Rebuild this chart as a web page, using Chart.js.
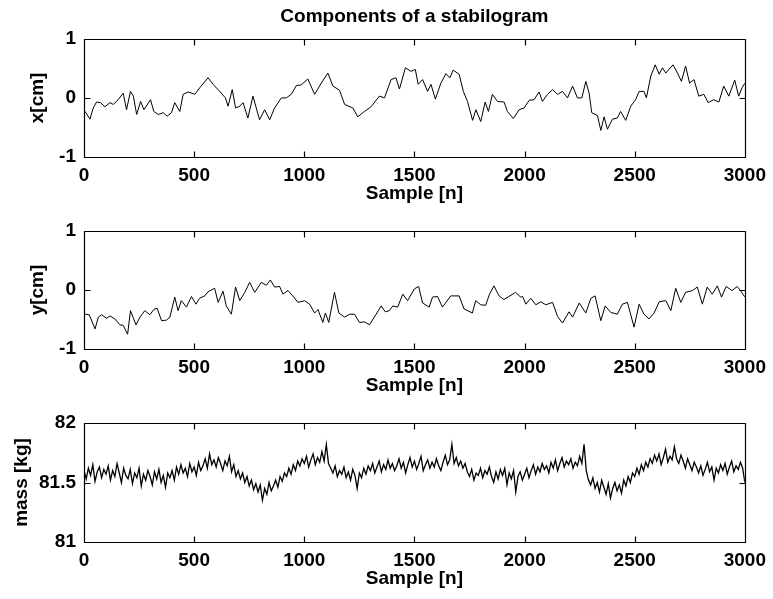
<!DOCTYPE html>
<html>
<head>
<meta charset="utf-8">
<script src="https://cdn.jsdelivr.net/npm/chart.js@4.4.1/dist/chart.umd.min.js"></script>
<style>
  body { margin: 0; background: #fff; }
  .page { position: relative; width: 773px; height: 599px; }
  canvas { position: absolute; left: 0; }
</style>
</head>
<body>
<div class="page">
  <canvas id="xChart" width="773" height="205" style="top:0px"></canvas>
  <canvas id="yChart" width="773" height="186" style="top:211px"></canvas>
  <canvas id="massChart" width="773" height="187" style="top:403px"></canvas>
</div>
<script>
const xTicksSample = [0, 500, 1000, 1500, 2000, 2500, 3000];

const xSamples = [0, 5, 27, 42, 57, 75, 95, 118, 133, 155, 178, 193, 211, 224, 239, 257, 272, 302, 317, 337, 360, 377, 397, 412, 435, 450, 473, 503, 525, 563, 586, 616, 642, 654, 673, 688, 707, 722, 744, 767, 797, 820, 843, 865, 896, 918, 941, 964, 986,
  1016, 1047, 1077, 1107, 1130, 1160, 1183, 1220, 1243, 1273, 1303, 1341, 1364, 1394, 1416, 1432, 1459, 1484, 1504, 1517, 1537, 1560, 1575, 1595, 1620, 1643, 1661, 1676, 1703, 1722, 1741, 1764, 1779, 1801, 1821, 1836, 1854, 1877, 1907, 1922, 1949, 1975, 1998, 2021,
  2043, 2066, 2081, 2104, 2127, 2150, 2172, 2195, 2218, 2240, 2260, 2278, 2293, 2305, 2331, 2346, 2361, 2376, 2399, 2421, 2436, 2459, 2482, 2504, 2520, 2542, 2553, 2573, 2593, 2611, 2626, 2641, 2674, 2694, 2712, 2731, 2749, 2769, 2791, 2814, 2833, 2859, 2882, 2904, 2927, 2954, 2972, 2987, 3000];
const xValues = [-0.2, -0.23, -0.36, -0.17, -0.07, -0.08, -0.15, -0.08, -0.11, -0.03, 0.08, -0.2, 0.11, 0.03, -0.28, -0.06, -0.2, -0.03, -0.23, -0.28, -0.25, -0.31, -0.25, -0.08, -0.23, 0.06, 0.1, 0.06, 0.17, 0.34, 0.23, 0.11, 0.0, -0.14, 0.14, -0.17, -0.14, -0.08, -0.34, 0.03, -0.37, -0.2, -0.37, -0.17, 0.0, 0.0, 0.06, 0.21, 0.22,
  0.32, 0.06, 0.25, 0.42, 0.2, 0.13, -0.11, -0.17, -0.32, -0.23, -0.15, 0.03, 0.0, 0.31, 0.34, 0.15, 0.51, 0.45, 0.48, 0.23, 0.31, 0.11, 0.23, -0.02, 0.25, 0.41, 0.34, 0.47, 0.4, 0.11, -0.06, -0.38, -0.2, -0.4, -0.07, -0.23, 0.06, -0.06, -0.07, -0.23, -0.35, -0.2, -0.17, -0.04,
  -0.03, 0.1, -0.06, 0.06, 0.14, 0.06, 0.11, 0.0, 0.2, 0.0, 0.0, 0.28, 0.08, -0.25, -0.3, -0.55, -0.32, -0.53, -0.36, -0.34, -0.23, -0.38, -0.14, -0.03, 0.11, 0.11, 0.0, 0.37, 0.56, 0.4, 0.51, 0.42, 0.56, 0.42, 0.28, 0.54, 0.25, 0.31, 0.03, 0.06, -0.08, -0.03, -0.07, 0.2, 0.03, 0.3, 0.03, 0.17, 0.25];

const ySamples = [0, 5, 24, 50, 65, 80, 103, 118, 140, 163, 178, 198, 211, 236, 254, 276, 299, 317, 332, 352, 375, 390, 412, 427, 442, 465, 488, 508, 525, 548, 563, 593, 609, 631, 646, 669, 688, 707, 730, 752, 775, 805, 828, 846, 865, 888, 903, 926, 948, 971, 994,
  1001, 1024, 1047, 1062, 1084, 1096, 1111, 1137, 1157, 1183, 1205, 1228, 1250, 1273, 1296, 1318, 1349, 1368, 1386, 1402, 1424, 1447, 1469, 1500, 1519, 1537, 1567, 1582, 1605, 1627, 1665, 1703, 1725, 1763, 1778, 1801, 1823, 1841, 1861, 1884, 1906, 1929, 1959, 1982,
  1991, 2006, 2028, 2051, 2074, 2096, 2127, 2150, 2172, 2202, 2218, 2248, 2278, 2301, 2320, 2346, 2366, 2391, 2421, 2444, 2467, 2497, 2520, 2542, 2565, 2588, 2611, 2641, 2664, 2686, 2709, 2731, 2762, 2784, 2807, 2829, 2852, 2875, 2894, 2915, 2942, 2965, 2980, 3000];
const yValues = [-0.4, -0.41, -0.42, -0.66, -0.46, -0.42, -0.48, -0.44, -0.49, -0.59, -0.6, -0.75, -0.35, -0.59, -0.46, -0.35, -0.42, -0.33, -0.31, -0.52, -0.51, -0.46, -0.12, -0.35, -0.18, -0.29, -0.11, -0.24, -0.14, -0.1, -0.03, 0.03, -0.21, -0.02, -0.27, -0.41, 0.05, -0.18, -0.04, 0.13, -0.04, 0.13, 0.08, 0.17, 0.05, 0.06, -0.07, -0.01, -0.1, -0.21, -0.19,
  -0.18, -0.24, -0.39, -0.33, -0.55, -0.39, -0.55, -0.04, -0.39, -0.46, -0.41, -0.41, -0.55, -0.54, -0.59, -0.46, -0.27, -0.37, -0.35, -0.27, -0.29, -0.07, -0.18, 0.02, 0.06, -0.22, -0.29, -0.12, -0.11, -0.29, -0.1, -0.1, -0.32, -0.39, -0.18, -0.25, -0.26, -0.07, 0.07, -0.1, -0.16, -0.11, -0.04, -0.12,
  -0.11, -0.24, -0.14, -0.25, -0.2, -0.25, -0.21, -0.45, -0.56, -0.37, -0.46, -0.22, -0.39, -0.14, -0.1, -0.52, -0.27, -0.38, -0.41, -0.24, -0.21, -0.63, -0.24, -0.41, -0.49, -0.39, -0.2, -0.18, -0.35, 0.03, -0.21, -0.04, -0.01, 0.05, -0.24, 0.05, -0.07, 0.07, -0.12, 0.06, -0.01, 0.06, -0.01, -0.12];

// mass read every 10 samples, n = 0 .. 3000
const massValues = [
  81.60, 81.53, 81.62, 81.56, 81.65, 81.51, 81.59, 81.63, 81.54, 81.61,
  81.57, 81.64, 81.52, 81.60, 81.55, 81.66, 81.58, 81.50, 81.62, 81.56,
  81.53, 81.61, 81.49, 81.58, 81.54, 81.62, 81.47, 81.57, 81.52, 81.60,
  81.55, 81.48, 81.59, 81.53, 81.61, 81.50, 81.56, 81.46, 81.58, 81.54,
  81.60, 81.52, 81.63, 81.57, 81.65, 81.58, 81.62, 81.55, 81.66, 81.59,
  81.63, 81.56, 81.67, 81.60, 81.64, 81.70, 81.62, 81.74, 81.65, 81.69,
  81.63, 81.71, 81.66, 81.60, 81.68, 81.64, 81.72, 81.59, 81.65, 81.55,
  81.60, 81.53, 81.58, 81.50, 81.55, 81.47, 81.52, 81.44, 81.49, 81.42,
  81.48, 81.35, 81.45, 81.40, 81.50, 81.43, 81.47, 81.52, 81.46, 81.55,
  81.51, 81.58, 81.55, 81.62, 81.57, 81.65, 81.60, 81.68, 81.64, 81.70,
  81.66, 81.72, 81.63, 81.69, 81.74, 81.65, 81.71, 81.67, 81.76, 81.68,
  81.82, 81.66, 81.62, 81.58, 81.64, 81.55, 81.60, 81.57, 81.63, 81.54,
  81.59, 81.52, 81.61, 81.56, 81.45, 81.58, 81.54, 81.62, 81.57, 81.64,
  81.60, 81.66, 81.58, 81.63, 81.68, 81.59, 81.65, 81.61, 81.69, 81.62,
  81.66, 81.60, 81.64, 81.70, 81.62, 81.67, 81.58, 81.65, 81.71, 81.63,
  81.68, 81.61, 81.66, 81.72, 81.60, 81.65, 81.69, 81.62, 81.67, 81.63,
  81.70, 81.64, 81.60, 81.67, 81.73, 81.65, 81.69, 81.82, 81.66, 81.71,
  81.64, 81.68, 81.62, 81.66, 81.59, 81.55, 81.61, 81.52, 81.58, 81.56,
  81.62, 81.54, 81.60, 81.57, 81.63, 81.55, 81.50, 81.59, 81.53, 81.61,
  81.56, 81.62, 81.48, 81.58, 81.53, 81.60, 81.42, 81.55, 81.59, 81.52,
  81.57, 81.62, 81.54, 81.60, 81.65, 81.57, 81.63, 81.59, 81.66, 81.61,
  81.64, 81.58, 81.67, 81.62, 81.69, 81.60, 81.66, 81.71, 81.63, 81.68,
  81.65, 81.70, 81.62, 81.67, 81.64, 81.72, 81.66, 81.82, 81.60, 81.52,
  81.48, 81.54, 81.45, 81.50, 81.42, 81.52, 81.46, 81.40, 81.49, 81.37,
  81.45, 81.50, 81.43, 81.48, 81.41, 81.52, 81.47, 81.55, 81.50, 81.58,
  81.55, 81.62, 81.57, 81.65, 81.60, 81.67, 81.63, 81.70, 81.66, 81.73,
  81.68, 81.74, 81.65, 81.71, 81.78, 81.67, 81.72, 81.69, 81.80, 81.70,
  81.66, 81.73, 81.68, 81.62, 81.70, 81.65, 81.60, 81.67, 81.63, 81.58,
  81.64, 81.56, 81.61, 81.67, 81.59, 81.63, 81.52, 81.62, 81.58, 81.65,
  81.60, 81.66, 81.57, 81.63, 81.68, 81.59, 81.64, 81.61, 81.67, 81.62,
  81.50
];
const massSamples = massValues.map((v, i) => i * 10);

Chart.defaults.font.family = '"Liberation Sans", Arial, Helvetica, sans-serif';
Chart.defaults.font.size = 19;
Chart.defaults.font.weight = 'bold';
Chart.defaults.color = '#000';

// matlab style box with ticks pointing inwards
const boxTicks = {
  id: 'boxTicks',
  afterDraw(chart) {
    const ctx = chart.ctx;
    const a = chart.chartArea;
    const sx = chart.scales.x, sy = chart.scales.y;
    const l = Math.round(a.left) + 0.5, r = Math.round(a.right) + 0.5;
    const t = Math.round(a.top) + 0.5, b = Math.round(a.bottom) + 0.5;
    ctx.save();
    ctx.strokeStyle = '#000';
    ctx.lineWidth = 1.2;
    ctx.beginPath();
    ctx.rect(l, t, r - l, b - t);
    sx.ticks.forEach(function(tk) {
      const px = Math.round(sx.getPixelForValue(tk.value)) + 0.5;
      ctx.moveTo(px, t); ctx.lineTo(px, t + 6);
      ctx.moveTo(px, b); ctx.lineTo(px, b - 6);
    });
    sy.ticks.forEach(function(tk) {
      const py = Math.round(sy.getPixelForValue(tk.value)) + 0.5;
      ctx.moveTo(l, py); ctx.lineTo(l + 6, py);
      ctx.moveTo(r, py); ctx.lineTo(r - 6, py);
    });
    ctx.stroke();
    ctx.restore();
  }
};

function toPoints(xs, ys) {
  return xs.map((x, i) => ({x: x, y: ys[i]}));
}

function plainLabel(value) {
  return String(value);
}

function makeConfig(points, yLabel, yMin, yMax, yStep, yTitlePad, lineW, title) {
  return {
    type: 'line',
    data: {
      datasets: [{
        data: points,
        borderColor: '#000',
        borderWidth: lineW,
        pointRadius: 0,
        tension: 0,
        fill: false
      }]
    },
    options: {
      responsive: false,
      animation: false,
      events: [],
      layout: { padding: { top: title ? 0 : 20, right: 26, left: 0, bottom: 0 } },
      plugins: {
        legend: { display: false },
        tooltip: { enabled: false },
        title: {
          display: !!title,
          text: title || '',
          fullSize: false,
          font: { size: 19, weight: 'bold' },
          color: '#000',
          padding: { top: 5, bottom: 11 }
        }
      },
      scales: {
        x: {
          type: 'linear',
          min: 0,
          max: 3000,
          afterBuildTicks: function(scale) {
            scale.ticks = xTicksSample.map(v => ({value: v}));
          },
          grid: { display: false, drawTicks: false },
          border: { display: false },
          ticks: { padding: 7, maxRotation: 0, callback: plainLabel },
          title: { display: true, text: 'Sample [n]', padding: { top: 0, bottom: 0 } },
          afterFit: function(scale) { scale.height = 48; }
        },
        y: {
          min: yMin,
          max: yMax,
          ticks: { stepSize: yStep, padding: 8, callback: plainLabel },
          grid: { display: false, drawTicks: false },
          border: { display: false },
          title: { display: true, text: yLabel, padding: { top: yTitlePad, bottom: 0 } },
          afterFit: function(scale) { scale.width = 84; }
        }
      }
    },
    plugins: [boxTicks]
  };
}

new Chart(document.getElementById('xChart'),
  makeConfig(toPoints(xSamples, xValues), 'x[cm]', -1, 1, 1, 26, 1, 'Components of a stabilogram'));
new Chart(document.getElementById('yChart'),
  makeConfig(toPoints(ySamples, yValues), 'y[cm]', -1, 1, 1, 26, 1));
new Chart(document.getElementById('massChart'),
  makeConfig(toPoints(massSamples, massValues), 'mass [kg]', 81, 82, 0.5, 10, 1.3));
</script>
</body>
</html>
